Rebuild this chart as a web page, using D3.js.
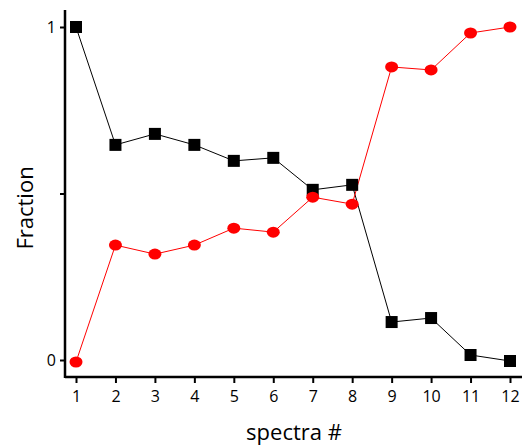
<!DOCTYPE html>
<html>
<head>
<meta charset="utf-8">
<script src="https://cdn.jsdelivr.net/npm/d3@7"></script>
<style>
  html, body { margin: 0; padding: 0; background: #fff; }
  svg { display: block; }
  text { font-family: "Open Sans", "Liberation Sans", sans-serif; fill: #000; }
</style>
</head>
<body>
<svg id="chart" width="522" height="446"></svg>
<script>
// spectrum index along the x axis
const spectra = [1, 2, 3, 4, 5, 6, 7, 8, 9, 10, 11, 12];
// fraction of the first component (black squares)
const blackSeries = [1.0, 0.646, 0.679, 0.646, 0.598, 0.607, 0.511, 0.526, 0.114, 0.126, 0.015, -0.003];
// fraction of the second component (red circles)
const redSeries = [-0.006, 0.345, 0.318, 0.345, 0.396, 0.384, 0.489, 0.468, 0.880, 0.871, 0.982, 1.0];
// y tick values and their labels
const yTicks = [0, 0.5, 1];
const yTickLabels = ["0", "", "1"];

const svg = d3.select("#chart");

const x = d3.scaleLinear().domain([1, 12]).range([76, 510]);
const y = d3.scaleLinear().domain([0, 1]).range([360, 27]);

const axisX = 377, axisLeft = 65;

// axes
const xAxis = svg.append("g").attr("transform", `translate(0,${axisX})`)
  .call(d3.axisBottom(x).tickValues(spectra).tickFormat(d3.format("d")).tickSize(6).tickPadding(4));
xAxis.select(".domain").remove();
xAxis.selectAll(".tick line").attr("stroke", "#000").attr("stroke-width", 2);
xAxis.selectAll(".tick text").style("font-size", "16px").attr("dy", "0.95em");

const yAxis = svg.append("g").attr("transform", `translate(${axisLeft},0)`)
  .call(d3.axisLeft(y).tickValues(yTicks).tickFormat((d, i) => yTickLabels[i]).tickSize(5).tickPadding(4));
yAxis.select(".domain").remove();
yAxis.selectAll(".tick line").attr("stroke", "#000").attr("stroke-width", 2);
yAxis.selectAll(".tick text").style("font-size", "16px");

svg.append("line").attr("x1", axisLeft).attr("x2", 522).attr("y1", axisX).attr("y2", axisX)
  .attr("stroke", "#000").attr("stroke-width", 2.5);
svg.append("line").attr("x1", axisLeft).attr("x2", axisLeft).attr("y1", 10).attr("y2", axisX + 1)
  .attr("stroke", "#000").attr("stroke-width", 2.5);

// series lines
const line = d3.line().x((d, i) => x(spectra[i])).y(d => y(d));
svg.append("path").datum(blackSeries).attr("d", line)
  .attr("fill", "none").attr("stroke", "#000").attr("stroke-width", 1);
svg.append("path").datum(redSeries).attr("d", line)
  .attr("fill", "none").attr("stroke", "#ff0000").attr("stroke-width", 1);

// markers
svg.append("g").selectAll("rect").data(blackSeries).join("rect")
  .attr("x", (d, i) => x(spectra[i]) - 6)
  .attr("y", d => y(d) - 6)
  .attr("width", 12).attr("height", 12)
  .attr("fill", "#000");

svg.append("g").selectAll("ellipse").data(redSeries).join("ellipse")
  .attr("cx", (d, i) => x(spectra[i]))
  .attr("cy", d => y(d))
  .attr("rx", 6.5).attr("ry", 5.5)
  .attr("fill", "#ff0000");

// axis titles
svg.append("text").attr("x", 294).attr("y", 440).attr("text-anchor", "middle")
  .style("font-size", "22px").text("spectra #");
svg.append("text").attr("transform", "translate(33,208) rotate(-90)").attr("text-anchor", "middle")
  .style("font-size", "22px").text("Fraction");
</script>
</body>
</html>
